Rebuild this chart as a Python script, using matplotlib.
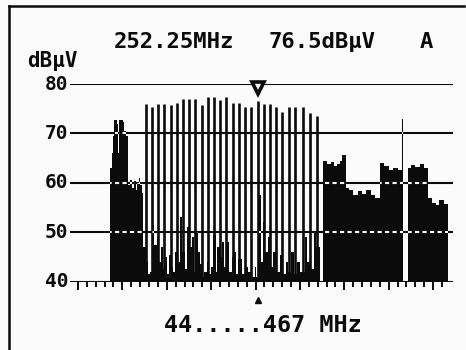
import matplotlib
matplotlib.use("Agg")
import matplotlib.pyplot as plt
from matplotlib.lines import Line2D

# readout of the meter
marker_mhz = 252.25
marker_dbuv = 76.5
span_text = "44.....467 MHz"

# level grid (dBuV)
grid_dbuv = [40, 50, 60, 70, 80]
grid_labels = ["40", "50", "60", "70", "80"]

# frequency ticks (MHz)
major_ticks = [50, 100, 150, 200, 250, 300, 350, 400, 450]
minor_ticks = [60, 70, 80, 90, 110, 120, 130, 140, 160, 170, 180, 190,
               210, 220, 230, 240, 260, 270, 280, 290, 310, 320, 330, 340,
               360, 370, 380, 390, 410, 420, 430, 440, 460]

# analog TV vision carriers (MHz) and their levels (dBuV)
carrier_mhz = [126.25, 133.25, 140.25, 147.25, 154.25, 161.25, 168.25,
               175.25, 182.25, 189.25, 196.25, 203.25, 210.25, 217.25,
               224.25, 231.25, 238.25, 245.25, 252.25, 259.25, 266.25,
               273.25, 280.25, 287.25, 294.25, 303.25, 311.25, 319.25]
carrier_dbuv = [76.0, 75.4, 76.0, 76.0, 75.8, 76.2, 77.0,
                77.0, 77.0, 75.8, 77.4, 77.4, 76.8, 77.4,
                76.2, 76.2, 75.4, 75.4, 76.5, 76.0, 76.0,
                75.4, 74.4, 75.4, 75.4, 75.4, 74.2, 73.6]

# dense part of the trace (FM band, noise floor, digital blocks), step levels
trace_mhz = [41.0, 86.5, 88.0, 89.3, 90.5, 93.5, 95.2, 96.2, 100.5, 101.8, 104.5,
             106.0, 106.8, 109.0, 111.0, 113.0, 115.0, 117.0, 118.5, 120.0,
             122.0, 123.5, 126.6, 129.0, 131.1, 133.4, 136.0, 139.0, 141.0,
             143.0, 146.0, 148.0, 150.0, 152.0, 155.0, 157.0, 159.0, 161.0,
             163.0, 165.0, 167.0, 170.0, 173.0, 176.0, 178.0, 181.0, 183.0,
             185.0, 187.5, 190.0, 192.0, 195.0, 197.0, 200.0, 202.0, 205.0,
             207.0, 210.0, 212.0, 215.0, 218.0, 220.0, 223.0, 226.0, 228.0,
             230.0, 232.5, 235.0, 238.0, 241.0, 244.0, 246.0, 249.0, 251.0,
             254.0, 256.0, 258.5, 261.0, 264.0, 267.0, 270.0, 273.0, 277.6,
             280.0, 284.0, 287.0, 290.0, 293.0, 296.8, 300.0, 305.8, 308.0,
             311.0, 313.0, 316.0, 318.0, 322.7,
             326.0, 330.0, 335.0, 338.0, 341.5, 345.0, 347.0, 351.6, 355.0,
             360.0, 365.0, 370.0, 375.0, 380.0, 385.0, 390.3, 395.0, 400.0,
             405.0, 410.0, 415.5, 416.5, 421.5, 425.0, 430.0, 435.0, 440.0,
             444.4, 449.0, 453.0, 457.0, 462.0, 467.0]
trace_dbuv = [40.0, 63.0, 66.0, 69.5, 72.8, 72.0, 66.0, 72.8, 72.3, 70.5, 69.5,
              40.0, 59.5, 60.5, 59.0, 60.3, 58.5, 60.0, 61.0, 59.5,
              58.0, 47.0, 44.0, 41.5, 42.0, 51.5, 47.5, 49.0, 44.0,
              47.0, 42.5, 45.0, 41.5, 45.5, 43.0, 42.0, 46.0, 41.5,
              44.0, 53.0, 46.0, 42.5, 51.0, 47.0, 49.0, 42.0, 50.0,
              46.0, 43.5, 41.0, 42.0, 44.0, 41.5, 43.0, 49.5, 42.0,
              47.0, 45.0, 48.0, 43.0, 48.0, 42.0, 45.0, 46.0, 41.5,
              44.5, 44.5, 41.5, 43.0, 42.0, 42.0, 41.0, 43.0, 41.0,
              57.5, 44.0, 52.0, 46.0, 49.0, 43.0, 46.0, 42.0, 45.5,
              41.5, 44.0, 42.0, 46.0, 41.5, 44.0, 42.0, 49.0, 44.0,
              48.0, 42.5, 50.0, 47.0, 40.0,
              64.5, 63.8, 64.2, 63.5, 63.8, 64.5, 65.6, 59.0, 58.5,
              57.5, 58.3, 57.8, 58.5, 57.5, 57.0, 64.0, 63.5, 62.5,
              63.0, 62.5, 73.0, 40.0, 63.0, 63.7, 63.3, 63.8, 63.0,
              57.0, 56.0, 55.5, 56.5, 55.8, 40.0]

W, H = 466, 350
INK = "#0b0b0b"
BG = "#fbfbfb"
FONT = "DejaVu Sans Mono"


def fx(x):
    return x / W


def fy(y):
    return 1 - y / H


fig = plt.figure(figsize=(W / 100, H / 100), dpi=100, facecolor=BG)

# screen frame: left and top edges visible
fig.add_artist(Line2D([fx(8.5), fx(8.5)], [fy(6), 0], transform=fig.transFigure, color=INK, lw=1.8))
fig.add_artist(Line2D([fx(8.5), fx(464)], [fy(6), fy(6)], transform=fig.transFigure, color=INK, lw=1.8))

ax = fig.add_axes([fx(70), fy(281.7), fx(453) - fx(70), fy(84) - fy(281.7)])
ax.set_facecolor(BG)
x0, x1 = 41.0, 472.5
ax.set_xlim(x0, x1)
ax.set_ylim(40, 80)
for s in ax.spines.values():
    s.set_visible(False)

ax.hlines(grid_dbuv, x0, x1, color=INK, lw=1.5, zorder=1)

fill = ax.fill_between(trace_mhz, 40, trace_dbuv, step="post", color=INK, lw=0, zorder=2)
ax.vlines(carrier_mhz, 40, carrier_dbuv, color=INK, lw=1.9, zorder=3)

# grid shows through the filled areas as white dashes
clip = fill.get_paths()[0]
for v in grid_dbuv[1:]:
    ln, = ax.plot([x0, x1], [v, v], color=BG, lw=1.5, ls=(0, (2, 1.6)), zorder=4)
    ln.set_clip_path(clip, ax.transData)

ax.set_xticks(major_ticks)
ax.set_xticks(minor_ticks, minor=True)
ax.set_xticklabels([])
ax.tick_params(axis="x", which="major", direction="out", length=6, width=1.4, color=INK)
ax.tick_params(axis="x", which="minor", direction="out", length=3.8, width=1.4, color=INK)
ax.set_yticks([])

for v, s in zip(grid_dbuv, grid_labels):
    ax.text(-2 / 383, v, s, transform=ax.get_yaxis_transform(), ha="right", va="center",
            fontsize=14, fontweight="bold", family=FONT, color=INK)

# marker
ax.plot(marker_mhz, 79.2, marker="v", ms=8.5, mfc=BG, mec=INK, mew=2.6, clip_on=False, zorder=6)
ax.plot(marker_mhz, 36.3, marker="^", ms=5, color=INK, clip_on=False, zorder=6)

fig.text(fx(27), fy(61), "dBµV", ha="left", va="center", fontsize=15, fontweight="bold",
         family=FONT, color=INK)
fig.text(fx(114), fy(42.5), f"{marker_mhz:.2f}MHz", ha="left", va="center", fontsize=16,
         fontweight="bold", family=FONT, color=INK)
fig.text(fx(268), fy(42.5), f"{marker_dbuv:.1f}dBµV", ha="left", va="center", fontsize=16,
         fontweight="bold", family=FONT, color=INK)
fig.text(fx(420), fy(42.5), "A", ha="left", va="center", fontsize=16,
         fontweight="bold", family=FONT, color=INK)
fig.text(fx(164), fy(325), span_text, ha="left", va="center", fontsize=16.8,
         fontweight="bold", family=FONT, color=INK)

fig.savefig("out.png", dpi=100, facecolor=BG)
